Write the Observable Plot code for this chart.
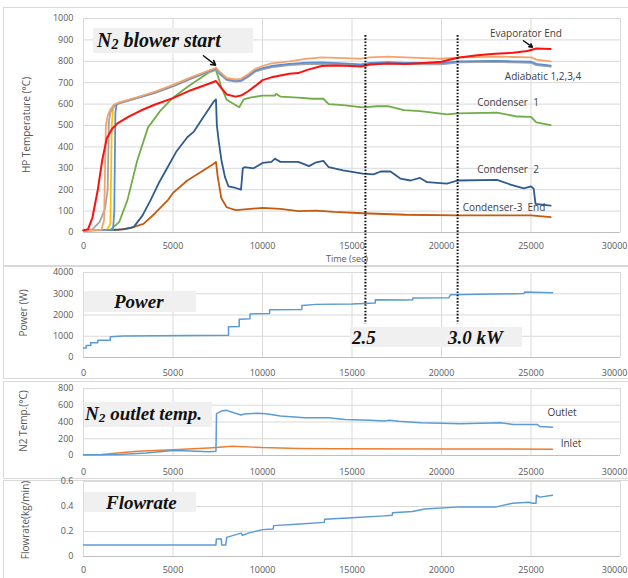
<!DOCTYPE html>
<html>
<head>
<meta charset="utf-8">
<script src="https://cdn.jsdelivr.net/npm/d3@7"></script>
<script src="https://cdn.jsdelivr.net/npm/@observablehq/plot@0.6"></script>
<style>
  html, body { margin: 0; padding: 0; background: #fff; }
  #wrap { position: relative; width: 628px; height: 578px; overflow: hidden; background: #fff; font-family: 'Open Sans', sans-serif; }
  .frame { position: absolute; border: 1px solid #d9d9d9; box-sizing: border-box; }
  .lbl { position: absolute; white-space: nowrap; transform: translate(-50%, -50%); color: #404040; font-size: 10px; line-height: 1; }
  .ttl { position: absolute; white-space: nowrap; transform: translate(-50%, -50%) rotate(-90deg); color: #595959; font-size: 10px; line-height: 1; }
  .box { position: absolute; background: #f0f0f0; }
  .ann { position: absolute; white-space: nowrap; transform: translate(0, -50%); font-family: 'Liberation Serif', serif; font-weight: bold; font-style: italic; color: #111; line-height: 1; }
  .ann sub { font-size: 0.7em; vertical-align: -0.2em; }
</style>
</head>
<body>
<div id="wrap"></div>
<script>
// ---------- data (time in s, value) ----------
const xTicks = [0, 5000, 10000, 15000, 20000, 25000, 30000];
const tempTicks = [0, 100, 200, 300, 400, 500, 600, 700, 800, 900, 1000];
const powerTicks = [0, 1000, 2000, 3000, 4000];
const n2Ticks = [0, 200, 400, 600, 800];
const flowTicks = [0, 0.2, 0.4, 0.6];
const markerTimes = [15750, 20900];

const evaporatorEnd = [[0,10],[250,15],[500,70],[800,200],[1050,340],[1300,440],[1600,485],[1900,510],[2500,540],[3200,570],[4000,598],[5000,628],[6000,665],[7000,695],[7400,708],[7700,675],[8000,645],[8500,635],[8800,640],[9200,660],[9600,685],[10000,712],[10500,725],[11500,742],[12000,745],[12500,760],[13300,778],[14000,780],[15000,778],[15500,776],[16000,785],[17000,790],[18000,787],[19000,792],[20000,798],[20500,808],[21000,818],[22000,828],[23000,835],[24000,840],[24800,848],[25300,860],[26100,858]];
const adiabatic1 = [[0,10],[1000,12],[1150,60],[1250,500],[1350,545],[1500,575],[1700,598],[2000,608],[3000,632],[4000,658],[5000,690],[6000,725],[7000,757],[7400,770],[7600,752],[8000,722],[8500,715],[8800,718],[9200,740],[9600,765],[10000,778],[10500,790],[11500,800],[12500,812],[13300,818],[14500,815],[15500,812],[16000,818],[17000,822],[18000,818],[19000,815],[20000,812],[21000,818],[22000,820],[23000,822],[24000,820],[25000,818],[25300,808],[26100,800]];
const adiabatic2 = [[0,10],[500,15],[900,50],[1200,110],[1350,200],[1420,520],[1500,560],[1700,592],[2000,603],[3000,628],[4000,652],[5000,683],[6000,718],[7000,750],[7400,762],[7600,742],[8000,712],[8500,705],[8800,707],[9200,727],[9600,752],[10000,762],[10500,772],[11500,782],[12500,787],[13300,788],[14500,783],[15500,778],[16000,786],[17000,790],[18000,787],[19000,786],[20000,786],[21000,795],[22000,796],[23000,797],[24000,795],[25000,793],[25300,782],[26100,775]];
const adiabatic3 = [[0,10],[1300,12],[1500,40],[1580,500],[1650,580],[1800,598],[2000,604],[3000,629],[4000,654],[5000,685],[6000,720],[7000,752],[7400,764],[7600,744],[8000,714],[8500,707],[8800,709],[9200,729],[9600,754],[10000,764],[10500,774],[11500,784],[12500,789],[13300,790],[14500,785],[15500,780],[16000,788],[17000,792],[18000,789],[19000,788],[20000,788],[21000,797],[22000,798],[23000,799],[24000,797],[25000,795],[25300,784],[26100,777]];
const adiabatic4 = [[0,10],[1650,12],[1720,100],[1780,560],[1850,600],[2000,606],[3000,630],[4000,655],[5000,686],[6000,721],[7000,754],[7400,766],[7600,746],[8000,716],[8500,709],[8800,711],[9200,732],[9600,757],[10000,768],[10500,778],[11500,788],[12500,794],[13300,795],[14500,790],[15500,786],[16000,792],[17000,796],[18000,793],[19000,792],[20000,792],[21000,800],[22000,801],[23000,802],[24000,800],[25000,798],[25300,788],[26100,780]];
const condenser1 = [[0,10],[1500,12],[2000,50],[2450,150],[3000,335],[3600,490],[4300,570],[5000,630],[5800,680],[6500,720],[7000,748],[7400,760],[7700,680],[8000,620],[8300,605],[8700,585],[8950,622],[9300,630],[10000,640],[10700,640],[10750,648],[11000,635],[12000,630],[12800,625],[13400,625],[13700,600],[14500,595],[15600,585],[16400,590],[17000,590],[17900,572],[18800,567],[19500,560],[20300,552],[20900,557],[23100,560],[24250,542],[25000,540],[25300,515],[26100,502]];
const condenser2 = [[0,10],[1500,12],[2200,15],[2800,25],[3300,80],[3740,150],[4200,230],[4700,305],[5200,380],[5800,445],[6150,470],[6700,540],[7260,610],[7400,622],[7450,500],[7550,430],[7700,340],[7900,260],[8100,215],[8500,208],[8800,200],[8900,300],[9000,305],[9500,300],[10000,325],[10500,330],[10700,345],[11000,330],[12000,330],[12600,310],[13000,328],[13400,335],[13700,305],[14500,290],[15600,275],[16200,272],[16600,285],[17150,285],[17700,252],[18270,243],[18800,255],[19200,235],[20300,228],[20900,243],[23100,246],[23850,224],[24600,206],[25000,215],[25150,205],[25250,134],[26100,126]];
const condenser3 = [[0,10],[1900,12],[2600,20],[3350,40],[4000,90],[4700,150],[5000,185],[5800,243],[6600,285],[7260,320],[7400,330],[7500,260],[7700,160],[8000,118],[8500,105],[9000,108],[10000,115],[11000,110],[12000,100],[13000,102],[14000,96],[15600,90],[18000,83],[20900,80],[25000,80],[26100,72]];

const power = [[0,450],[150,450],[150,560],[400,560],[400,700],[800,700],[800,810],[1500,810],[1500,980],[2200,1010],[4000,1020],[6000,1030],[8100,1050],[8100,1450],[8700,1460],[8700,1800],[9300,1820],[9300,2050],[10400,2070],[10400,2250],[12200,2260],[12200,2450],[13000,2500],[15000,2520],[16300,2560],[16300,2720],[18000,2710],[18400,2720],[18400,2800],[20400,2810],[20500,2950],[24000,3000],[24600,3010],[24650,3080],[26200,3050]];

const n2Outlet = [[0,10],[2000,12],[3500,30],[5000,60],[6000,55],[7000,45],[7400,50],[7430,500],[7700,530],[8000,539],[8400,510],[8800,484],[9000,495],[9700,505],[10200,498],[11000,472],[12350,450],[13700,450],[14600,430],[16000,420],[16800,413],[17100,421],[17600,410],[18850,392],[20000,385],[21050,379],[23300,392],[24000,370],[25350,370],[25500,345],[26200,337]];
const n2Inlet = [[0,10],[1000,12],[3000,50],[5000,70],[7000,90],[7400,95],[8300,110],[9500,100],[10000,95],[12000,85],[14000,80],[20000,78],[26200,75]];

const flowrate = [[0,0.093],[7400,0.093],[7420,0.14],[7700,0.14],[7720,0.093],[7950,0.093],[8000,0.153],[8800,0.187],[8880,0.17],[9200,0.187],[10000,0.215],[10600,0.22],[10620,0.247],[11900,0.258],[13450,0.273],[13470,0.298],[15000,0.31],[16800,0.325],[17250,0.33],[17260,0.35],[18380,0.36],[19050,0.38],[21050,0.397],[23070,0.397],[23970,0.426],[24860,0.434],[25100,0.426],[25280,0.426],[25300,0.49],[25500,0.475],[26200,0.49]];

// ---------- layout helpers ----------
const wrap = document.getElementById("wrap");
function add(el) { wrap.appendChild(el); return el; }
function div(cls, css, html) {
  const d = document.createElement("div");
  d.className = cls;
  Object.assign(d.style, css);
  if (html != null) d.innerHTML = html;
  return add(d);
}

const gridColor = "#d9d9d9";
function panel({top, height, mt, mb, yDomain, yTicks, yFmt, xPad, marks}) {
  const svg = Plot.plot({
    width: 628, height,
    marginLeft: 83, marginRight: 8, marginTop: mt, marginBottom: mb,
    style: {fontFamily: "'Open Sans', sans-serif", fontSize: "9px", color: "#595959", background: "transparent", overflow: "visible"},
    x: {domain: [0, 30000], ticks: xTicks, tickFormat: d => String(d), tickSize: 0, tickPadding: xPad, label: null},
    y: {domain: yDomain, ticks: yTicks, tickFormat: yFmt, tickSize: 0, tickPadding: 10, label: null},
    marks: [
      Plot.ruleX(xTicks, {stroke: gridColor, strokeWidth: 1}),
      Plot.ruleY(yTicks.slice(1), {stroke: gridColor, strokeWidth: 1}),
      Plot.ruleY([yDomain[0]], {stroke: "#bfbfbf", strokeWidth: 1}),
      ...marks
    ]
  });
  // keep the last x tick label inside the page: right-align it at the edge
  svg.querySelectorAll("text").forEach(t => {
    if (t.textContent === "30000") {
      t.setAttribute("text-anchor", "end");
      t.setAttribute("dx", "7");
    }
  });
  svg.style.position = "absolute";
  svg.style.left = "0px";
  svg.style.top = top + "px";
  add(svg);
  return svg;
}
const X = d => d[0], Y = d => d[1];
const ln = (data, stroke, w = 1.8) => Plot.line(data, {x: X, y: Y, stroke, strokeWidth: w, curve: "linear"});

// frames
div("frame", {left: "3px", top: "7px", width: "640px", height: "259px"});
div("frame", {left: "3px", top: "266px", width: "640px", height: "113px"});
div("frame", {left: "3px", top: "381px", width: "640px", height: "98px"});
div("frame", {left: "3px", top: "480px", width: "640px", height: "110px"});

// ---------- Panel 1: HP temperatures ----------
panel({
  top: 7, height: 258, mt: 11, mb: 33,
  yDomain: [0, 1000], yTicks: tempTicks, yFmt: d => String(d), xPad: 10,
  marks: [
    ln(condenser3, "#c55a11"),
    ln(condenser2, "#2f5b8f"),
    ln(condenser1, "#70ad47"),
    ln(adiabatic3, "#ffc000"),
    ln(adiabatic2, "#a5a5a5"),
    ln(adiabatic4, "#5b8fd5"),
    ln(adiabatic1, "#f4a46a"),
    ln(evaporatorEnd, "#ff1010", 2),
    Plot.ruleX(markerTimes, {y1: 920, y2: -154, stroke: "#111", strokeWidth: 2, strokeDasharray: "1.6,1.6"}),
    Plot.arrow([[6700, 826, 7380, 782]], {x1: d => d[0], y1: d => d[1], x2: d => d[2], y2: d => d[3], stroke: "#111", strokeWidth: 1.5, headLength: 7}),
    Plot.arrow([[24580, 896, 25080, 866]], {x1: d => d[0], y1: d => d[1], x2: d => d[2], y2: d => d[3], stroke: "#111", strokeWidth: 1.5, headLength: 7})
  ]
});

// ---------- Panel 2: Power ----------
panel({
  top: 266, height: 112, mt: 6, mb: 21,
  yDomain: [0, 4000], yTicks: powerTicks, yFmt: d => String(d), xPad: 12,
  marks: [
    ln(power, "#5b9bd5", 1.5),
    Plot.ruleX(markerTimes, {y1: 4290, y2: 1560, stroke: "#111", strokeWidth: 2, strokeDasharray: "1.6,1.6"})
  ]
});

// ---------- Panel 3: N2 temperatures ----------
panel({
  top: 381, height: 97, mt: 7, mb: 23,
  yDomain: [0, 800], yTicks: n2Ticks, yFmt: d => String(d), xPad: 13.5,
  marks: [
    ln(n2Inlet, "#ed7d31", 1.5),
    ln(n2Outlet, "#5b9bd5", 1.5)
  ]
});

// ---------- Panel 4: Flowrate ----------
panel({
  top: 479, height: 99, mt: 2, mb: 22,
  yDomain: [0, 0.6], yTicks: flowTicks, yFmt: d => d === 0 ? "0" : d.toFixed(1), xPad: 10,
  marks: [
    ln(flowrate, "#5b9bd5", 1.5)
  ]
});

// ---------- text ----------
div("ttl", {left: "26px", top: "125px"}, "HP Temperature (°C)");
div("ttl", {left: "23px", top: "313px"}, "Power (W)");
div("ttl", {left: "23px", top: "421px"}, "N2 Temp.(°C)");
div("ttl", {left: "25px", top: "520px"}, "Flowrate(kg/min)");
div("lbl", {left: "347px", top: "258px", fontSize: "9px", color: "#595959"}, "Time (sec)");

div("lbl", {left: "526px", top: "33px"}, "Evaporator End");
div("lbl", {left: "543px", top: "76px"}, "Adiabatic 1,2,3,4");
div("lbl", {left: "508px", top: "102px"}, "Condenser&nbsp; 1");
div("lbl", {left: "508px", top: "169px"}, "Condenser&nbsp; 2");
div("lbl", {left: "504px", top: "207px"}, "Condenser-3&nbsp; End");
div("lbl", {left: "562px", top: "412px"}, "Outlet");
div("lbl", {left: "571px", top: "443px"}, "Inlet");

div("box", {left: "93px", top: "28px", width: "160px", height: "25px"});
div("ann", {left: "97px", top: "41px", fontSize: "20px"}, "N<sub>2</sub> blower start");
div("box", {left: "84px", top: "291px", width: "112px", height: "21px"});
div("ann", {left: "114px", top: "301px", fontSize: "19px"}, "Power");
div("box", {left: "350px", top: "327px", width: "172px", height: "20px"});
div("ann", {left: "352px", top: "337px", fontSize: "19px"}, "2.5");
div("ann", {left: "448px", top: "337px", fontSize: "19px"}, "3.0 kW");
div("box", {left: "84px", top: "402px", width: "128px", height: "25px"});
div("ann", {left: "85px", top: "414px", fontSize: "19px"}, "N<sub>2</sub> outlet temp.");
div("box", {left: "84px", top: "492px", width: "112px", height: "20px"});
div("ann", {left: "106px", top: "502px", fontSize: "19px"}, "Flowrate");
</script>
</body>
</html>
